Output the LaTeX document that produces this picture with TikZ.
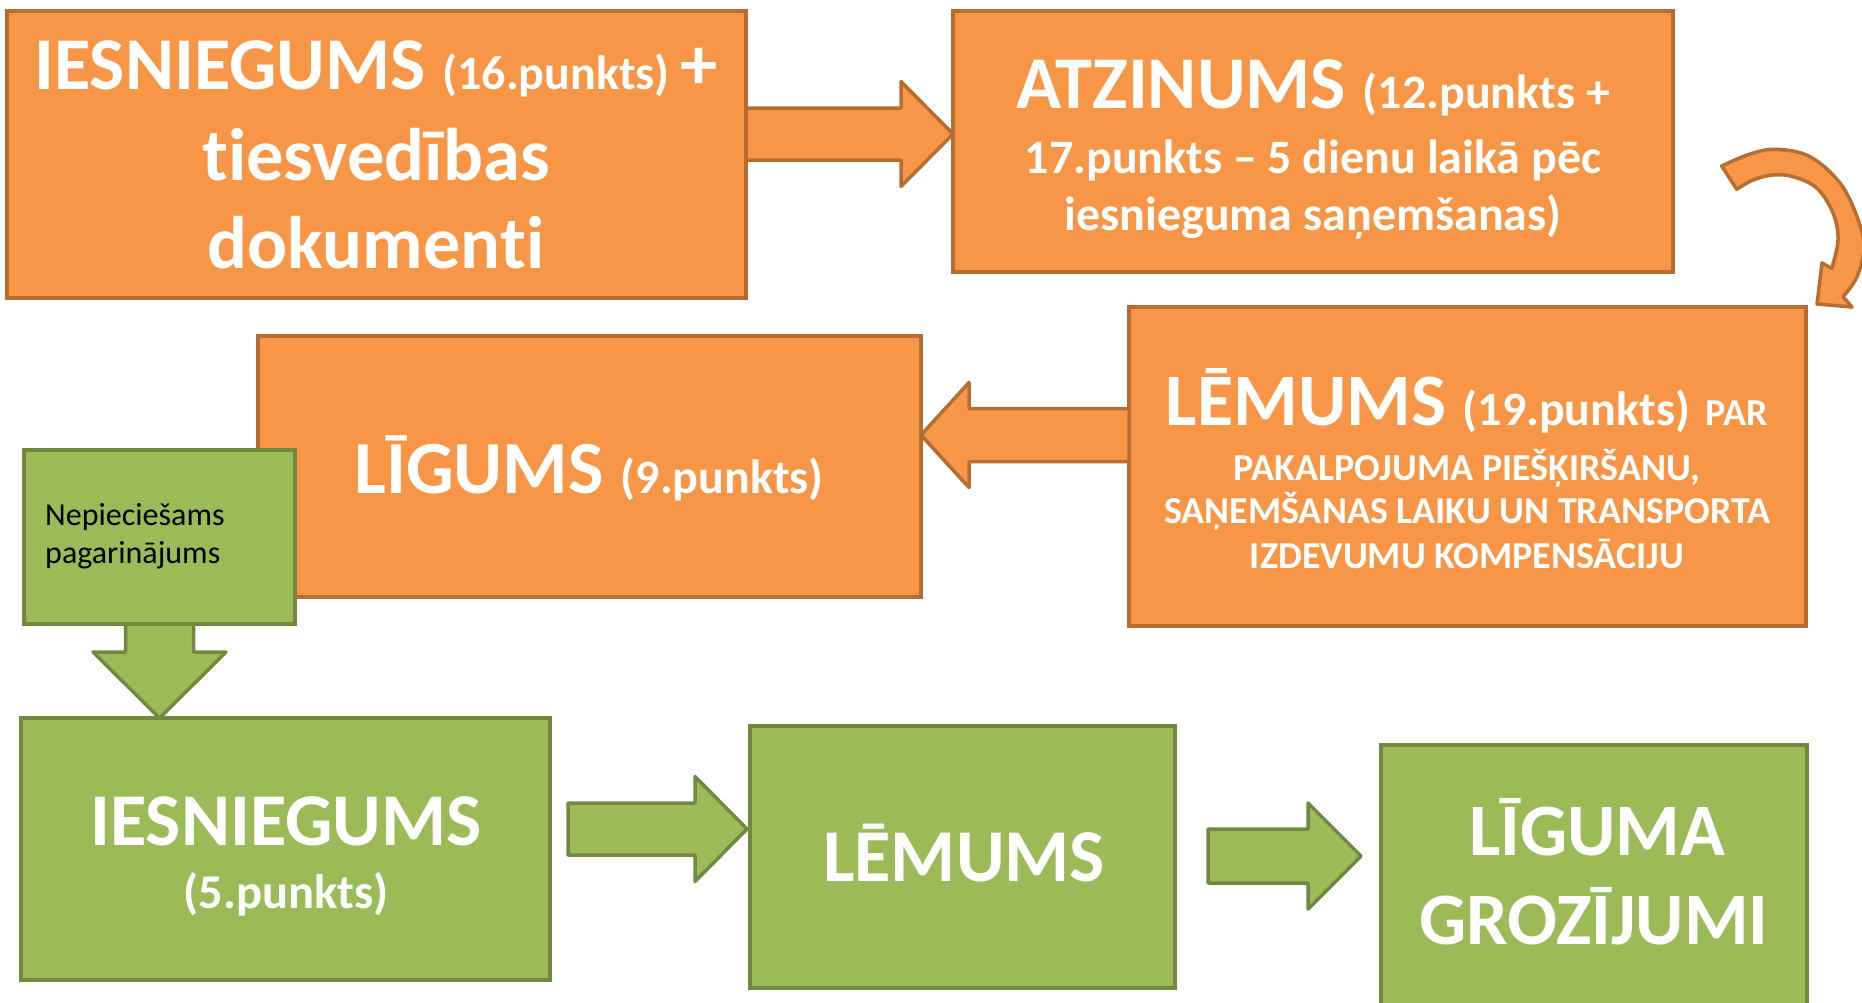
\documentclass[tikz,border=0pt]{standalone}
\usepackage{fontspec}
\setmainfont{Carlito}[Ligatures=NoCommon]
\usetikzlibrary{calc}
\definecolor{ofill}{HTML}{F79646}
\definecolor{oline}{HTML}{B66D31}
\definecolor{gfill}{HTML}{9BBB59}
\definecolor{gline}{HTML}{71893F}
\newcommand\setfs[1]{\fontsize{#1}{#1}\selectfont}
\newcommand\blockarrow[6]{%
  \path #2 coordinate (ba-s);
  \path #3 coordinate (ba-e);
  \path ($(ba-e)!#6!(ba-s)$) coordinate (ba-h);
  \draw[#1] ($(ba-s)!#4!90:(ba-e)$) -- ($(ba-h)!#4!90:(ba-e)$) -- ($(ba-h)!#5!90:(ba-e)$)
    -- (ba-e) -- ($(ba-h)!#5!-90:(ba-e)$) -- ($(ba-h)!#4!-90:(ba-e)$)
    -- ($(ba-s)!#4!-90:(ba-e)$) -- cycle;
}
\tikzset{
  obox/.style={draw=oline, fill=ofill, line width=3.5pt, rectangle, outer sep=0pt, inner sep=0pt},
  gbox/.style={draw=gline, fill=gfill, line width=4pt, rectangle, outer sep=0pt, inner sep=0pt},
  oarrow/.style={draw=oline, fill=ofill, line width=3.5pt, line join=round},
  garrow/.style={draw=gline, fill=gfill, line width=3.5pt, line join=round},
  txt/.style={text=white, font=\bfseries, inner sep=0pt, anchor=base},
  btxt/.style={text=black, inner sep=0pt, anchor=base west},
}
\begin{document}
\begin{tikzpicture}[x=1pt, y=-1pt]
\clip (0,0) rectangle (1862,1002);
\fill[white] (0,0) rectangle (1862,1002);

% boxes
\node[obox, minimum width=739pt, minimum height=287pt] (b1) at (376.5,154.5) {};
\node[obox, minimum width=720pt, minimum height=261pt] (b2) at (1313,141.5) {};
\node[obox, minimum width=677pt, minimum height=319pt] (b3) at (1467.5,466.5) {};
\node[obox, minimum width=663pt, minimum height=261pt] (b4) at (589.5,466.5) {};
\node[gbox, minimum width=271pt, minimum height=174pt] (gs) at (159.5,537) {};
\node[gbox, minimum width=529pt, minimum height=262pt] (b5) at (285.5,849) {};
\node[gbox, minimum width=425pt, minimum height=262pt] (b6) at (962.5,857) {};
\node[gbox, minimum width=426pt, minimum height=265pt] (b7) at (1594,877.5) {};

% block arrows
\blockarrow{oarrow}{(b1.east |- 0,134)}{(b2.west |- 0,134)}{26pt}{52.5pt}{52pt}
\blockarrow{oarrow}{(b3.west |- 0,435)}{(b4.east |- 0,435)}{26.5pt}{52.5pt}{48pt}
\blockarrow{garrow}{(gs.south)}{(gs.south |- b5.north)}{34pt}{66.5pt}{66pt}
\blockarrow{garrow}{($(b5.east |- 0,829)+(18,0)$)}{($(b6.west |- 0,829)+(-3,0)$)}{26pt}{52.5pt}{52pt}
\blockarrow{garrow}{($(b6.east |- 0,856)+(33,0)$)}{($(b7.west |- 0,856)+(-20,0)$)}{27pt}{53pt}{53pt}

% curved arrow from b2 to b3
\draw[oarrow] plot[smooth, tension=0.6] coordinates {(1721.7,166) (1750,154) (1776.7,149.3) (1810,156.7) (1840,183) (1857,216.7) (1864,246.7) (1857,276.7) (1843,296.7)}
  -- (1852,307) -- (1817,304) -- (1822,263)
  -- plot[smooth, tension=0.6] coordinates {(1831.7,268.3) (1838,240) (1833,213) (1816.7,188) (1793,176.7) (1773,175) (1753,180) (1736.7,189.3)}
  -- cycle;

% texts
\node[txt] (t1a) at (376,89) {\setfs{74.5}IESNIEGUMS \setfs{48}(16.punkts) \setfs{74.5}+};
\node[txt] (t1b) at (376,180) {\setfs{74.5}tiesvedības};
\node[txt] (t1c) at (376,268) {\setfs{74.5}dokumenti};

\node[txt] (t2a) at (1313,108) {\setfs{74.5}ATZINUMS \setfs{48}(12.punkts +};
\node[txt] (t2b) at (1313,173) {\setfs{48}17.punkts – 5 dienu laikā pēc};
\node[txt] (t2c) at (1313,230) {\setfs{48}iesnieguma saņemšanas)};

\node[txt] (t3a) at (1467,425) {\setfs{74}LĒMUMS \setfs{48}(19.punkts)\hspace{16pt}\setfs{38}PAR};
\node[txt] (t3b) at (1467,480) {\setfs{38}PAKALPOJUMA PIEŠĶIRŠANU,};
\node[txt] (t3c) at (1467,523) {\setfs{38}SAŅEMŠANAS LAIKU UN TRANSPORTA};
\node[txt] (t3d) at (1467,568) {\setfs{38}IZDEVUMU KOMPENSĀCIJU};

\node[txt] (t4) at (589,493) {\setfs{75}LĪGUMS \setfs{48}(9.punkts)};

\node[btxt] (tg1) at (45,525) {\setfs{32}Nepiecie\v{s}ams};
\node[btxt] (tg2) at (45,563) {\setfs{32}pagarinājums};

\node[txt] (t5a) at (286,845) {\setfs{74.5}IESNIEGUMS};
\node[txt] (t5b) at (286,908) {\setfs{48.5}(5.punkts)};

\node[txt] (t6) at (964,881) {\setfs{74.5}LĒMUMS};

\node[txt] (t7a) at (1597,855) {\setfs{74}LĪGUMA};
\node[txt] (t7b) at (1594,944) {\setfs{74}GROZĪJUMI};
\end{tikzpicture}
\end{document}
